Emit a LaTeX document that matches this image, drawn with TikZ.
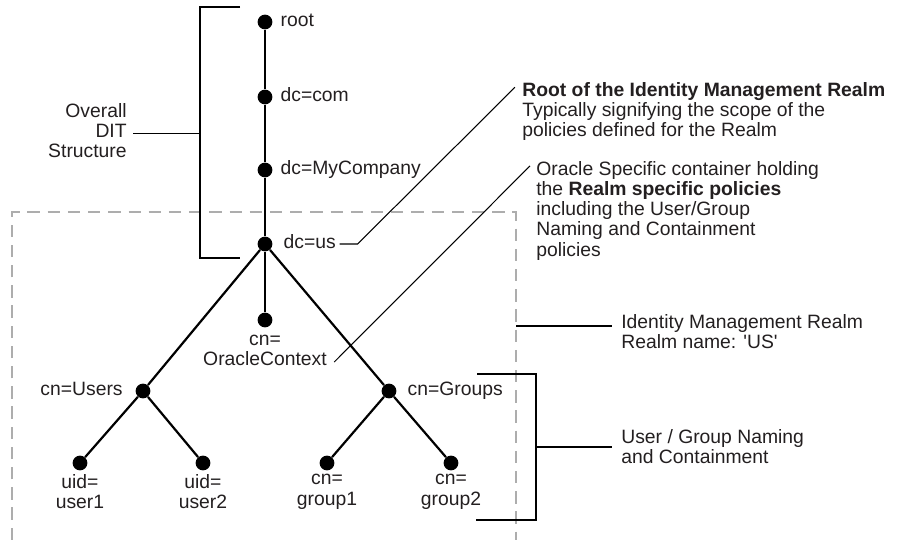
\documentclass[tikz,border=0pt]{standalone}
\usepackage{fontspec}
\setmainfont{Liberation Sans}
\usetikzlibrary{positioning}
\definecolor{realmgray}{HTML}{ADADAD}
\definecolor{inkblack}{HTML}{231F20}

\begin{document}
\begin{tikzpicture}[x=0.02cm, y=-0.02cm,
    dot/.style={circle, fill=black, inner sep=0pt, minimum size=8.4pt},
    tag/.style={inner sep=0pt, align=center, text=inkblack, font=\fontsize{11}{11.5}\selectfont, execute at begin node=\strut},
    note/.style={tag, align=left, anchor=north west},
    edge/.style={line width=1.25pt},
    lead/.style={line width=0.6pt},
    brace/.style={line width=0.75pt},
    realm/.style={draw=realmgray, line width=1.1pt, dash pattern=on 7pt off 4.5pt}
  ]
  \useasboundingbox (0,0) rectangle (900,543);
  % realm box, open at the bottom
  \draw[realm] (12,540) |- (516,212) -- (516,540);
  % DIT entries
  \node[dot] (root) at (265,22) {};
  \node[dot] (com) at (265,97) {};
  \node[dot] (myco) at (265,170) {};
  \node[dot] (us) at (265,244) {};
  \node[dot] (oc) at (265,320) {};
  \node[dot] (users) at (143,391) {};
  \node[dot] (groups) at (389,391) {};
  \node[dot] (u1) at (80,463) {};
  \node[dot] (u2) at (203,463) {};
  \node[dot] (g1) at (327,463) {};
  \node[dot] (g2) at (451,463) {};
  \foreach \a/\b in {root/com,com/myco,myco/us,us/oc,us/users,us/groups,users/u1,users/u2,groups/g1,groups/g2} { \draw[edge] (\a) -- (\b); }
  \node[tag, right=4.3pt of root] (root-t) {root};
  \node[tag, right=4.3pt of com] (com-t) {dc=com};
  \node[tag, right=4.3pt of myco] (myco-t) {dc=MyCompany};
  \node[tag, right=6pt of us] (us-t) {dc=us};
  \node[tag, below=3.8pt of oc] (oc-t) {cn=\\OracleContext};
  \node[tag, left=7pt of users] (users-t) {cn=Users};
  \node[tag, right=6pt of groups] (groups-t) {cn=Groups};
  \node[tag, below=2pt of u1] (u1-t) {uid=\\user1};
  \node[tag, below=2pt of u2] (u2-t) {uid=\\user2};
  \node[tag, below=2pt of g1] (g1-t) {cn=\\group1};
  \node[tag, below=2pt of g2] (g2-t) {cn=\\group2};
  % notes
  \node[tag, align=right, anchor=north east] (dit-t) at (127,103) {Overall\\DIT\\Structure};
  \node[note] (rootnote) at (522,82) {\textbf{Root of the Identity Management Realm}\\Typically signifying the scope of the\\policies defined for the Realm};
  \node[note] (ocnote) at (536,161) {Oracle Specific container holding\\the \textbf{Realm specific policies}\\including the User/Group\\Naming and Containment\\policies};
  \node[note] (realmnote) at (621,314) {Identity Management Realm\\Realm name: \textquotesingle US\textquotesingle};
  \node[note] (namingnote) at (621,429) {User / Group Naming\\and Containment};
  % brackets
  \coordinate (dit-spine) at (200,132);
  \draw[brace] (240,7) -| (200,258) -- (240,258);
  \draw[brace] ([xshift=3.5pt]dit-t.east) -- (dit-t.east -| dit-spine);
  \coordinate (naming-spine) at (536,447);
  \draw[brace] (477,374) -| (536,520) -- (476,520);
  \draw[brace] (naming-spine) -- ([xshift=-5pt]namingnote.west |- naming-spine);
  \coordinate (realm-edge) at (516,326);
  \draw[lead] (realm-edge) -- ([xshift=-5pt]realmnote.west |- realm-edge);
  % leaders
  \draw[lead] ([xshift=2pt]us-t.east) -- ++(18,0) -- ([xshift=-4pt,yshift=-3pt]rootnote.north west);
  \draw[lead] ([xshift=4pt,yshift=5.5pt]oc-t.south east) -- ([xshift=-3.4pt,yshift=-2.8pt]ocnote.north west);
\end{tikzpicture}
\end{document}
